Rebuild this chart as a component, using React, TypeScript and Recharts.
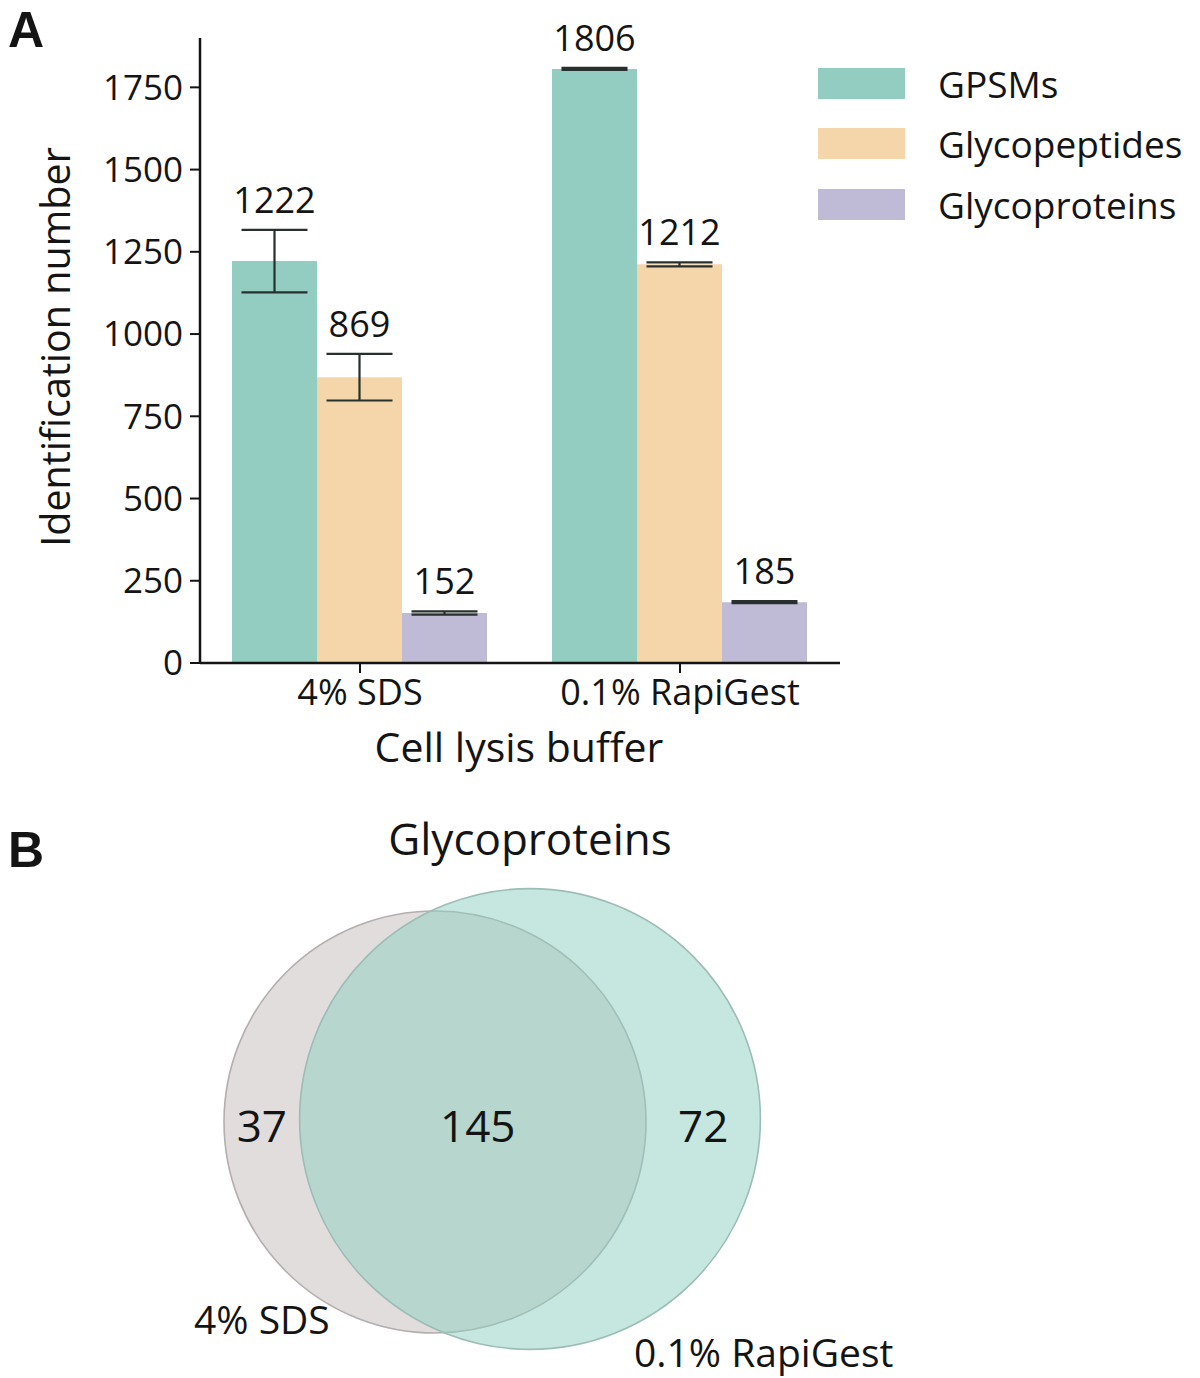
import React from "react"
import {
  BarChart,
  Bar,
  XAxis,
  YAxis,
  ErrorBar,
  LabelList,
  ScatterChart,
  Scatter,
} from "recharts"

// panel A data
const categories = ["4% SDS", "0.1% RapiGest"]
const seriesNames = ["GPSMs", "Glycopeptides", "Glycoproteins"]
const seriesColors = ["#93ccc0", "#f5d6aa", "#bfbbd6"]
const gpsms = [1222, 1806]
const gpsmsErr = [95, 3]
const glycopeptides = [869, 1212]
const glycopeptidesErr = [71, 6]
const glycoproteins = [152, 185]
const glycoproteinsErr = [5, 3]
const yTicks = [0, 250, 500, 750, 1000, 1250, 1500, 1750]

// panel B data
const vennSets = ["4% SDS", "0.1% RapiGest"]
const vennOnly = [37, 72]
const vennShared = 145

const FONT = "'Open Sans', sans-serif"
const LETTER_FONT = "'Liberation Sans', Arial, sans-serif"
const INK = "#141414"

const chartData = categories.map((c, i) => ({
  name: c,
  GPSMs: gpsms[i],
  gpsmsErr: gpsmsErr[i],
  Glycopeptides: glycopeptides[i],
  glycopeptidesErr: glycopeptidesErr[i],
  Glycoproteins: glycoproteins[i],
  glycoproteinsErr: glycoproteinsErr[i],
}))

const makeValueLabel = (errs: number[]) => (props: any) => {
  const vb = props.viewBox || {}
  const x = props.x ?? vb.x
  const y = props.y ?? vb.y
  const width = props.width ?? vb.width
  const height = props.height ?? vb.height
  const { value, index } = props
  const errPx = value ? (height * errs[index]) / value : 0
  return (
    <text
      x={x + width / 2}
      y={y - errPx - 17}
      textAnchor="middle"
      fontSize={36}
      fill={INK}
      fontFamily={FONT}
    >
      {value}
    </text>
  )
}

// venn sizes from set totals (area ~ count)
const vennTotals = [vennOnly[0] + vennShared, vennOnly[1] + vennShared]
const K = 15.64
const vennData = [
  { cx: 435, cy: 1122, r: K * Math.sqrt(vennTotals[0]), fill: "#e1dddd", stroke: "#b5aeae", op: 1 },
  { cx: 530, cy: 1119, r: K * Math.sqrt(vennTotals[1]), fill: "#8ccfc0", stroke: "#9bbdb5", op: 0.5 },
]
const gL = vennData[0].cx - vennData[0].r
const gR = vennData[0].cx + vennData[0].r
const tL = vennData[1].cx - vennData[1].r
const tR = vennData[1].cx + vennData[1].r
const vennLabels = [
  { cx: (gL + tL) / 2, cy: 1125, text: vennOnly[0] },
  { cx: (tL + gR) / 2 + 5, cy: 1125, text: vennShared },
  { cx: (gR + tR) / 2, cy: 1125, text: vennOnly[1] },
]

const VennCircle = (props: any) => {
  const { cx, cy, payload } = props
  return (
    <g>
      <circle cx={cx} cy={cy} r={payload.r} fill={payload.fill} fillOpacity={payload.op} />
      <circle cx={cx} cy={cy} r={payload.r} fill="none" stroke={payload.stroke} strokeWidth={1.6} />
    </g>
  )
}

const VennCount = (props: any) => {
  const { cx, cy, payload } = props
  return (
    <text
      x={cx}
      y={cy}
      textAnchor="middle"
      dominantBaseline="central"
      fontSize={44}
      fill={INK}
      fontFamily={FONT}
    >
      {payload.text}
    </text>
  )
}

const App = () => {
  const top = 780

  return (
    <div
      style={{
        position: "absolute",
        left: 0,
        top: 0,
        width: 1200,
        height: 1378,
        background: "#fff",
        fontFamily: FONT,
      }}
    >
      <div style={{ position: "absolute", left: 0, top: 0 }}>
        <BarChart
          width={1200}
          height={780}
          data={chartData}
          margin={{ top: 38, right: 360, left: 80, bottom: 57 }}
          barCategoryGap="10%"
          barGap={0}
          style={{ fontFamily: FONT }}
        >
          <XAxis
            dataKey="name"
            height={60}
            tickSize={10}
            tickMargin={6}
            interval={0}
            axisLine={{ stroke: INK, strokeWidth: 2.5 }}
            tickLine={{ stroke: INK, strokeWidth: 2 }}
            tick={{ fontSize: 36, fill: INK }}
          />
          <YAxis
            width={120}
            domain={[0, 1900]}
            ticks={yTicks}
            tickSize={10}
            tickMargin={7}
            axisLine={{ stroke: INK, strokeWidth: 2.5 }}
            tickLine={{ stroke: INK, strokeWidth: 2 }}
            tick={{ fontSize: 35, fill: INK }}
            interval={0}
          />
          <Bar dataKey="GPSMs" fill={seriesColors[0]} isAnimationActive={false}>
            <ErrorBar dataKey="gpsmsErr" width={33} stroke="#27302e" strokeWidth={2.2} direction="y" />
            <LabelList dataKey="GPSMs" content={makeValueLabel(gpsmsErr)} />
          </Bar>
          <Bar dataKey="Glycopeptides" fill={seriesColors[1]} isAnimationActive={false}>
            <ErrorBar dataKey="glycopeptidesErr" width={33} stroke="#27302e" strokeWidth={2.2} direction="y" />
            <LabelList dataKey="Glycopeptides" content={makeValueLabel(glycopeptidesErr)} />
          </Bar>
          <Bar dataKey="Glycoproteins" fill={seriesColors[2]} isAnimationActive={false}>
            <ErrorBar dataKey="glycoproteinsErr" width={33} stroke="#27302e" strokeWidth={2.2} direction="y" />
            <LabelList dataKey="Glycoproteins" content={makeValueLabel(glycoproteinsErr)} />
          </Bar>
          <text x={8} y={47} fontSize={50} fontWeight={700} fill={INK} fontFamily={LETTER_FONT}>
            A
          </text>
          <text
            transform="translate(55,347) rotate(-90)"
            textAnchor="middle"
            dominantBaseline="central"
            fontSize={39.5}
            fill={INK}
            fontFamily={FONT}
          >
            Identification number
          </text>
          <text x={519} y={762} textAnchor="middle" fontSize={41} fill={INK} fontFamily={FONT}>
            Cell lysis buffer
          </text>
        </BarChart>
      </div>

      <div style={{ position: "absolute", left: 818, top: 53 }}>
        {seriesNames.map((n, i) => (
          <div key={n} style={{ display: "flex", alignItems: "center", height: 60.5 }}>
            <div style={{ width: 87, height: 31, background: seriesColors[i] }} />
            <span style={{ marginLeft: 33, fontSize: 37, color: INK }}>{n}</span>
          </div>
        ))}
      </div>

      <div style={{ position: "absolute", left: 0, top }}>
        <ScatterChart width={1200} height={598} margin={{ top: 0, right: 0, bottom: 0, left: 0 }}>
          <XAxis type="number" dataKey="cx" domain={[0, 1200]} hide />
          <YAxis type="number" dataKey="cy" domain={[top, top + 598]} reversed hide />
          <Scatter data={vennData} shape={<VennCircle />} isAnimationActive={false} />
          <Scatter data={vennLabels} shape={<VennCount />} isAnimationActive={false} />
          <text x={8} y={867 - top} fontSize={50} fontWeight={700} fill={INK} fontFamily={LETTER_FONT}>
            B
          </text>
          <text x={530} y={855 - top} textAnchor="middle" fontSize={44} fill={INK} fontFamily={FONT}>
            Glycoproteins
          </text>
          <text x={194} y={1334 - top} fontSize={39} fill={INK} fontFamily={FONT}>
            {vennSets[0]}
          </text>
          <text x={634} y={1367 - top} fontSize={39} fill={INK} fontFamily={FONT}>
            {vennSets[1]}
          </text>
        </ScatterChart>
      </div>
    </div>
  )
}

export default App
